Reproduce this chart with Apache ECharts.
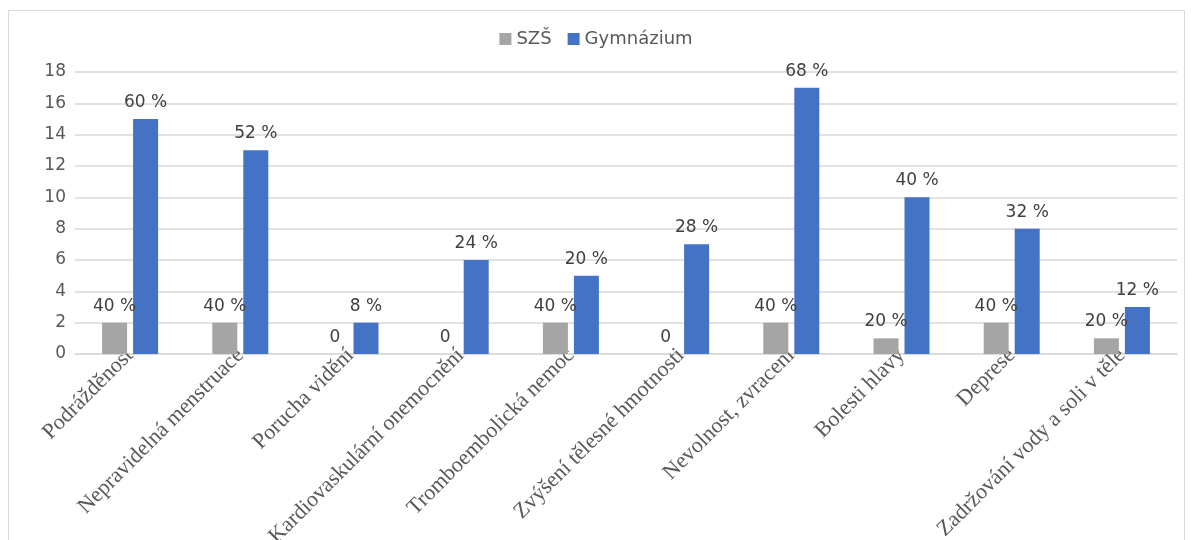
<!DOCTYPE html>
<html lang="cs">

<head>
    <meta charset="UTF-8">
    <title>Nežádoucí účinky</title>
    <script src="https://cdn.jsdelivr.net/npm/echarts@6/dist/echarts.min.js"></script>
    <style>
        html, body { margin: 0; padding: 0; background: #fff; }
        #graf { width: 1192px; height: 540px; }
    </style>
</head>

<body>
    <div id="graf"></div>
    <script>
        const kategorie = ['Podrážděnost', 'Nepravidelná menstruace', 'Porucha vidění', 'Kardiovaskulární onemocnění',
            'Tromboembolická nemoc', 'Zvýšení tělesné hmotnosti', 'Nevolnost, zvracení', 'Bolesti hlavy',
            'Deprese', 'Zadržování vody a soli v těle'];
        const szs = [2, 2, 0, 0, 2, 0, 2, 1, 2, 1];
        const gym = [15, 13, 2, 6, 5, 7, 17, 10, 8, 3];
        const szsPopisky = ['40 %', '40 %', '0', '0', '40 %', '0', '40 %', '20 %', '40 %', '20 %'];
        const gymPopisky = ['60 %', '52 %', '8 %', '24 %', '20 %', '28 %', '68 %', '40 %', '32 %', '12 %'];

        let graf = echarts.init(document.getElementById('graf'));

        let popisek = function (texty) {
            return {
                show: true,
                position: 'top',
                distance: 8,
                color: '#404040',
                fontSize: 17,
                fontFamily: 'DejaVu Sans',
                formatter: function (p) { return texty[p.dataIndex]; }
            };
        };

        let options = {
            animation: false,
            graphic: [{
                type: 'rect',
                shape: { x: 8.5, y: 10.5, width: 1176, height: 560 },
                style: { fill: 'none', stroke: '#d9d9d9', lineWidth: 1 },
                silent: true
            }],
            legend: {
                top: 25,
                left: 'center',
                itemWidth: 12,
                itemHeight: 12,
                itemGap: 16,
                icon: 'rect',
                textStyle: { color: '#595959', fontSize: 18, fontFamily: 'DejaVu Sans' },
                data: ['SZŠ', 'Gymnázium']
            },
            grid: { left: 75, right: 15, top: 72, bottom: 186, containLabel: false, outerBoundsMode: 'none' },
            xAxis: {
                type: 'category',
                data: kategorie,
                axisTick: { show: false },
                axisLine: { lineStyle: { color: '#d9d9d9', width: 1.5 } },
                axisLabel: {
                    rotate: 45,
                    interval: 0,
                    margin: -2,
                    color: '#595959',
                    fontSize: 22,
                    fontFamily: 'Liberation Serif'
                }
            },
            yAxis: {
                type: 'value',
                min: 0,
                max: 18,
                interval: 2,
                axisLine: { show: false },
                axisTick: { show: false },
                splitLine: { lineStyle: { color: '#d9d9d9', width: 1.5 } },
                axisLabel: { color: '#595959', fontSize: 17, fontFamily: 'DejaVu Sans', margin: 9 }
            },
            series: [
                {
                    name: 'SZŠ',
                    type: 'bar',
                    data: szs,
                    barWidth: 25,
                    barGap: '24%',
                    itemStyle: { color: '#a5a5a5' },
                    label: popisek(szsPopisky)
                },
                {
                    name: 'Gymnázium',
                    type: 'bar',
                    data: gym,
                    barWidth: 25,
                    itemStyle: { color: '#4472c4' },
                    label: popisek(gymPopisky)
                }
            ]
        };
        graf.setOption(options);
    </script>
</body>

</html>
